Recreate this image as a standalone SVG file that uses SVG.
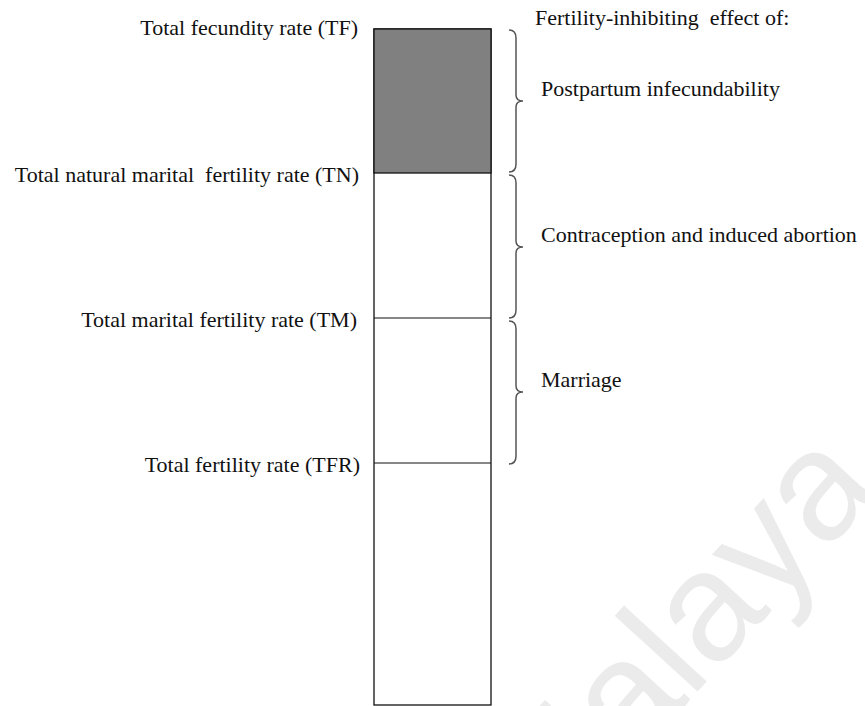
<svg xmlns="http://www.w3.org/2000/svg" width="865" height="706" viewBox="0 0 865 706">
<style>
.lbl{font-family:"Liberation Serif","Times New Roman",serif;font-size:22px;fill:#111}
.brace{fill:none;stroke:#555;stroke-width:1.5}
.bar{fill:#fff;stroke:#111;stroke-width:1.3}
.div{stroke:#111;stroke-width:1.2}
</style>
<rect width="865" height="706" fill="#fff"/>
<text x="545" y="858" transform="rotate(-47.5 545 858)" font-family="Liberation Sans, Arial, sans-serif" font-size="155" fill="#ebebeb">Malaya</text>
<g id="bar">
<rect class="bar" x="374" y="29" width="117" height="676"/>
<rect x="374" y="29" width="117" height="144" fill="#808080" stroke="#111" stroke-width="1.3"/>
<line class="div" x1="374" y1="318" x2="491" y2="318"/>
<line class="div" x1="374" y1="463" x2="491" y2="463"/>
</g>
<g id="labels-left">
<text class="lbl" x="358" y="35" text-anchor="end">Total fecundity rate (TF)</text>
<text class="lbl" x="359" y="182" text-anchor="end" xml:space="preserve">Total natural marital  fertility rate (TN)</text>
<text class="lbl" x="357" y="327" text-anchor="end">Total marital fertility rate (TM)</text>
<text class="lbl" x="360" y="472" text-anchor="end">Total fertility rate (TFR)</text>
</g>
<g id="connectors">
<path class="brace" d="M509 30 Q516 30 516 38 L516 95 Q516 101 523 101 Q516 101 516 107 L516 164 Q516 172 509 172"/>
<path class="brace" d="M509 175 Q516 175 516 183 L516 241 Q516 247 523 247 Q516 247 516 253 L516 310 Q516 318 509 318"/>
<path class="brace" d="M509 321 Q516 321 516 329 L516 386 Q516 392 523 392 Q516 392 516 398 L516 456 Q516 464 509 464"/>
</g>
<g id="labels-right">
<text class="lbl" x="535" y="25" xml:space="preserve">Fertility-inhibiting  effect of:</text>
<text class="lbl" x="541" y="96">Postpartum infecundability</text>
<text class="lbl" x="541" y="242">Contraception and induced abortion</text>
<text class="lbl" x="541" y="387">Marriage</text>
</g>
</svg>
